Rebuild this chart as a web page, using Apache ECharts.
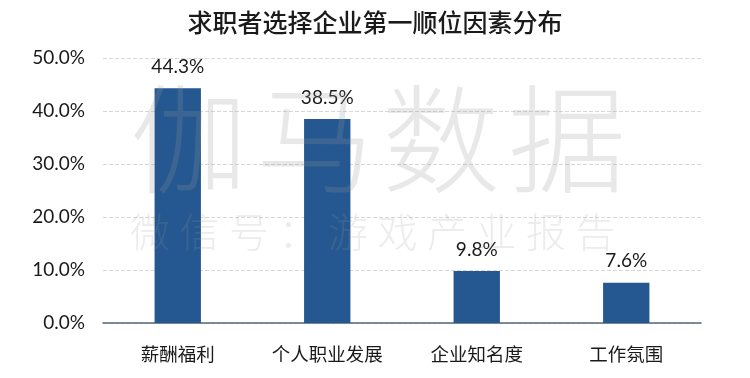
<!DOCTYPE html>
<html>
<head>
<meta charset="utf-8">
<script src="https://cdn.jsdelivr.net/npm/echarts@6/dist/echarts.min.js"></script>
<style>
html,body{margin:0;padding:0;background:#fff;}
#chart{width:750px;height:378px;}
</style>
</head>
<body>
<div id="chart"></div>
<script>
var title = '求职者选择企业第一顺位因素分布';
var categories = ['薪酬福利', '个人职业发展', '企业知名度', '工作氛围'];
var values = [44.3, 38.5, 9.8, 7.6];
var yTicks = [0, 10, 20, 30, 40, 50];
var watermarkBig = ['伽', '马', '数', '据'];
var watermarkSmall = ['微', '信', '号', '：', '游', '戏', '产', '业', '报', '告'];

var cjk = '"Noto Sans CJK SC", sans-serif';
var num = 'Lato, "Noto Sans", sans-serif';

var graphics = [];
watermarkBig.forEach(function (ch, i) {
  graphics.push({
    type: 'text', z: 100, silent: true,
    left: 130 + i * 126, top: 80,
    style: { text: ch, font: '300 118px ' + cjk, fill: 'rgba(150,150,150,0.22)' }
  });
});
watermarkSmall.forEach(function (ch, i) {
  graphics.push({
    type: 'text', z: 100, silent: true,
    left: 130 + i * 49.5, top: 212,
    style: { text: ch, font: '300 40px ' + cjk, fill: 'rgba(150,150,150,0.18)' }
  });
});

var chart = echarts.init(document.getElementById('chart'), null, { renderer: 'canvas' });
chart.setOption({
  backgroundColor: '#fff',
  animation: false,
  title: {
    text: title, left: 'center', top: 5,
    textStyle: { fontFamily: cjk, fontSize: 25, fontWeight: 500, color: '#1a1a1a' }
  },
  grid: { left: 103, right: 49, top: 58, bottom: 55, containLabel: false },
  xAxis: {
    type: 'category', data: categories,
    axisLine: { lineStyle: { color: '#56677a', width: 1.5 } },
    axisTick: { show: false },
    axisLabel: { fontFamily: cjk, fontSize: 18.5, color: '#1a1a1a', margin: 22 }
  },
  yAxis: {
    type: 'value', min: yTicks[0], max: yTicks[yTicks.length - 1], interval: 10,
    axisLine: { show: false }, axisTick: { show: false },
    splitLine: { lineStyle: { color: '#d8d8d8', type: 'dashed' } },
    axisLabel: {
      fontFamily: num, fontSize: 19, color: '#1a1a1a', margin: 18,
      formatter: function (v) { return v.toFixed(1) + '%'; }
    }
  },
  series: [{
    type: 'bar', data: values, barWidth: '31%',
    itemStyle: { color: '#255891' },
    label: {
      show: true, position: 'top', distance: 12,
      fontFamily: num, fontSize: 19, color: '#1a1a1a',
      formatter: function (p) { return p.value.toFixed(1) + '%'; }
    }
  }],
  graphic: graphics
});
</script>
</body>
</html>
